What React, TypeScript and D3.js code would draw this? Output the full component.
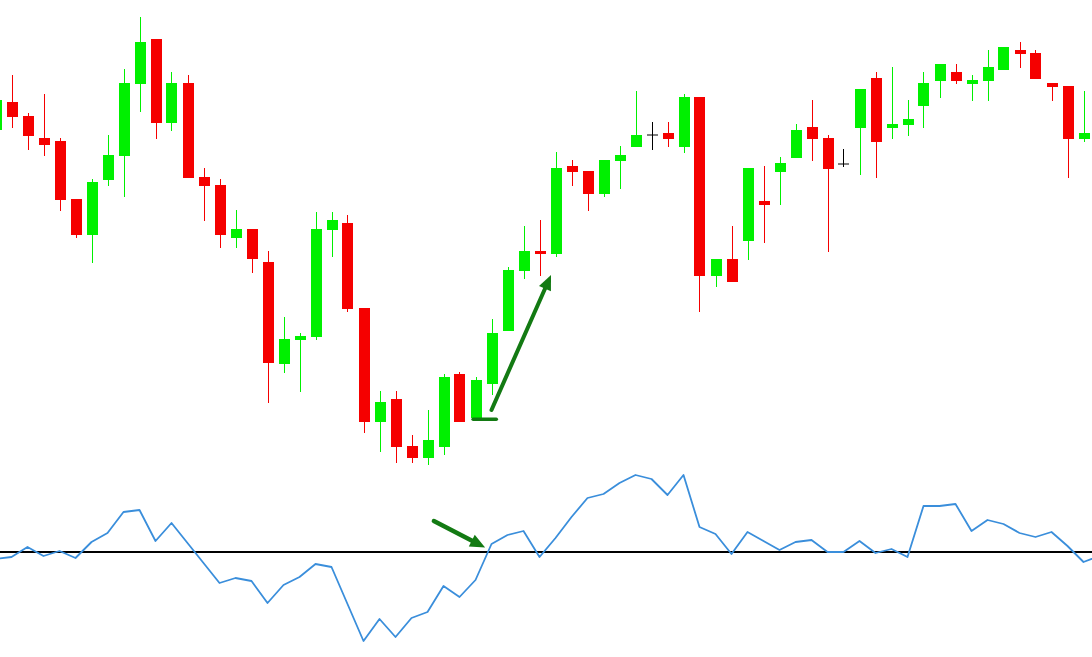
import React from "react";
import * as d3 from "d3";

const W = 1092;
const H = 657;

// candle index runs from -1 (cut at the left edge) to 67
const FIRST_INDEX = -1;
const OPEN = [370, 398, 384, 362, 359, 301, 265, 320, 344, 416, 461, 377, 417, 323, 315, 262, 271, 238, 136, 160, 163, 270, 277, 192, 78, 101, 54, 42, 53, 126, 82, 116, 169, 229, 249, 246, 334, 329, 306, 339, 353, 365, 367, 353, 403, 224, 241, 259, 299, 328, 342, 373, 362, 336, 372, 422, 372, 375, 394, 419, 428, 416, 419, 430, 450, 447, 417, 414, 361];
const HIGH = [403, 425, 387, 406, 362, 301, 321, 365, 431, 483, 461, 428, 425, 332, 321, 290, 271, 249, 183, 167, 288, 288, 285, 192, 109, 109, 65, 90, 126, 128, 123, 181, 233, 274, 280, 348, 340, 329, 340, 354, 409, 378, 378, 406, 403, 241, 274, 332, 334, 343, 376, 400, 365, 351, 411, 428, 433, 400, 428, 436, 436, 425, 450, 453, 458, 450, 417, 414, 409];
const LOW = [369, 372, 350, 344, 289, 262, 237, 314, 303, 388, 361, 369, 322, 279, 252, 252, 227, 97, 127, 108, 160, 243, 188, 67, 48, 37, 37, 35, 45, 78, 81, 105, 169, 221, 224, 243, 314, 289, 303, 311, 353, 350, 353, 347, 188, 213, 218, 240, 257, 295, 342, 339, 248, 333, 325, 322, 361, 364, 372, 402, 416, 399, 399, 430, 432, 421, 399, 322, 358];
const CLOSE = [400, 383, 364, 355, 300, 265, 318, 345, 417, 458, 377, 417, 322, 314, 265, 271, 241, 137, 161, 164, 271, 280, 191, 78, 98, 53, 42, 60, 123, 78, 120, 167, 230, 249, 246, 332, 328, 306, 340, 345, 365, 365, 361, 403, 224, 241, 218, 332, 295, 337, 370, 361, 331, 336, 411, 358, 376, 381, 417, 436, 419, 420, 433, 453, 446, 421, 413, 361, 367];

// oscillator, one value per bar (index -1 .. 68)
const OSC = [-7, -5, 5, -4, 1, -6, 10, 19, 40, 42, 11, 29, 9, -11, -31, -26, -29, -51, -33, -25, -12, -15, -52, -89, -67, -85, -66, -60, -34, -45, -28, 8, 17, 21, -5, 14, 35, 54, 58, 69, 77, 73, 57, 77, 25, 18, -2, 20, 11, 2, 10, 12, 0, 0, 11, -1, 3, -5, 46, 46, 48, 21, 32, 28, 19, 15, 20, 6, -10, -4];

// annotation arrows, in data units [bar index, value]
const PRICE_BASE: [number, number][] = [[28.85, 80.7], [30.3, 80.7]];
const PRICE_ARROW: [number, number][] = [[30.0, 90], [33.72, 225]];
const OSC_ARROW: [number, number][] = [[26.4, 31], [29.6, 4.5]];

const GREEN = "#00f000";
const RED = "#f50000";
const ARROW = "#137a13";
const LINE = "#3a8edb";

interface Bar { i: number; o: number; h: number; l: number; c: number; }

const bars: Bar[] = OPEN.map((o, j) => ({
  i: FIRST_INDEX + j, o, h: HIGH[j], l: LOW[j], c: CLOSE[j],
}));

const x = d3.scaleLinear().domain([-1, 68]).range([-4.5, 1099.5]);
const yP = d3.scaleLinear().domain([0, 500]).range([500, 0]);
const yO = d3.scaleLinear().domain([-100, 100]).range([652, 452]);
const BODY = 11;

function arrowHead(x0: number, y0: number, x1: number, y1: number, len = 15, half = 6.5) {
  const dx = x1 - x0, dy = y1 - y0;
  const d = Math.hypot(dx, dy);
  const ux = dx / d, uy = dy / d;
  const bx = x1 - ux * len, by = y1 - uy * len;
  const p = d3.path();
  p.moveTo(x1, y1);
  p.lineTo(bx - uy * half, by + ux * half);
  p.lineTo(bx + uy * half, by - ux * half);
  p.closePath();
  return { d: p.toString(), bx: x1 - ux * (len - 3), by: y1 - uy * (len - 3) };
}

export default function App() {
  const oscLine = d3.line<number>()
    .x((_, j) => x(FIRST_INDEX + j))
    .y(v => yO(v))(OSC) ?? "";

  const pa0 = [x(PRICE_ARROW[0][0]), yP(PRICE_ARROW[0][1])];
  const pa1 = [x(PRICE_ARROW[1][0]), yP(PRICE_ARROW[1][1])];
  const pHead = arrowHead(pa0[0], pa0[1], pa1[0], pa1[1]);
  const oa0 = [x(OSC_ARROW[0][0]), yO(OSC_ARROW[0][1])];
  const oa1 = [x(OSC_ARROW[1][0]), yO(OSC_ARROW[1][1])];
  const oHead = arrowHead(oa0[0], oa0[1], oa1[0], oa1[1]);

  return (
    <svg width={W} height={H} style={{ position: "fixed", left: 0, top: 0, background: "#fff" }}>
      <rect width={W} height={H} fill="#fff" />
      {bars.map(b => {
        const cx = Math.round(x(b.i)) + 0.5;
        const doji = b.o === b.c;
        const col = doji ? "#000" : b.c > b.o ? GREEN : RED;
        const top = yP(Math.max(b.o, b.c));
        const bot = yP(Math.min(b.o, b.c));
        return (
          <g key={b.i}>
            <line x1={cx} x2={cx} y1={yP(b.h)} y2={yP(b.l)} stroke={col} strokeWidth={1} />
            {doji ? (
              <line x1={cx - BODY / 2} x2={cx + BODY / 2} y1={top} y2={top} stroke={col} strokeWidth={1} />
            ) : (
              <rect x={cx - BODY / 2} y={top} width={BODY} height={Math.max(1, bot - top)} fill={col} />
            )}
          </g>
        );
      })}

      <line x1={0} x2={W} y1={yO(0)} y2={yO(0)} stroke="#000" strokeWidth={2} />
      <path d={oscLine} fill="none" stroke={LINE} strokeWidth={1.8} strokeLinejoin="round" />

      <line x1={x(PRICE_BASE[0][0])} x2={x(PRICE_BASE[1][0])} y1={yP(PRICE_BASE[0][1])} y2={yP(PRICE_BASE[1][1])}
        stroke={ARROW} strokeWidth={3.5} strokeLinecap="round" />
      <line x1={pa0[0]} y1={pa0[1]} x2={pHead.bx} y2={pHead.by} stroke={ARROW} strokeWidth={4} strokeLinecap="round" />
      <path d={pHead.d} fill={ARROW} />

      <line x1={oa0[0]} y1={oa0[1]} x2={oHead.bx} y2={oHead.by} stroke={ARROW} strokeWidth={4.5} strokeLinecap="round" />
      <path d={oHead.d} fill={ARROW} />
    </svg>
  );
}
